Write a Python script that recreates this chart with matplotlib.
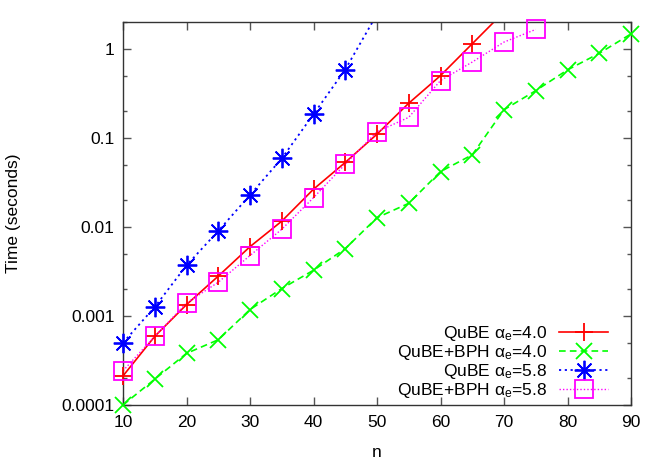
import matplotlib
matplotlib.use("Agg")
import matplotlib.pyplot as plt
from matplotlib.ticker import LogLocator, FixedLocator, NullFormatter

plt.rcParams['font.family'] = ['Liberation Sans', 'DejaVu Sans']
plt.rcParams['mathtext.fontset'] = 'custom'
plt.rcParams['mathtext.rm'] = 'Liberation Sans'
plt.rcParams['mathtext.it'] = 'Liberation Sans'

n_qube40 = [10, 15, 20, 25, 30, 35, 40, 45, 50, 55, 60, 65, 70]
t_qube40 = [0.000212, 0.00059, 0.00134, 0.0028, 0.0060, 0.0116, 0.0265, 0.053, 0.110, 0.245, 0.50, 1.14, 2.6]

n_bph40 = [10, 15, 20, 25, 30, 35, 40, 45, 50, 55, 60, 65, 70, 75, 80, 85, 90]
t_bph40 = [0.0001, 0.000195, 0.00038, 0.00054, 0.00118, 0.00203, 0.00326, 0.0057, 0.0127, 0.0184,
           0.0418, 0.0645, 0.207, 0.339, 0.58, 0.89, 1.47]

n_qube58 = [10, 15, 20, 25, 30, 35, 40, 45, 50]
t_qube58 = [0.00050, 0.00126, 0.0037, 0.0090, 0.0228, 0.0587, 0.184, 0.585, 2.45]

n_bph58 = [10, 15, 20, 25, 30, 35, 40, 45, 50, 55, 60, 65, 70, 75]
t_bph58 = [0.000242, 0.00059, 0.0014, 0.00239, 0.00477, 0.0094, 0.0213, 0.0506, 0.117, 0.170,
           0.44, 0.71, 1.19, 1.65]

labels = [r'QuBE α$_\mathrm{e}$=4.0', r'QuBE+BPH α$_\mathrm{e}$=4.0',
          r'QuBE α$_\mathrm{e}$=5.8', r'QuBE+BPH α$_\mathrm{e}$=5.8']
x_ticks = [10, 20, 30, 40, 50, 60, 70, 80, 90]
y_ticks = [0.0001, 0.001, 0.01, 0.1, 1]
y_ticklabels = ['0.0001', '0.001', '0.01', '0.1', '1']
x_range = (10, 90)
y_range = (0.0001, 2.0)

series = [
    (n_qube40, t_qube40, dict(color='#ff0000', lw=1.2, ls='-'), dict(marker='+', ms=13)),
    (n_bph40, t_bph40, dict(color='#00ff00', lw=1.2, ls=(0, (4, 2.5))), dict(marker='x', ms=12)),
    (n_qube58, t_qube58, dict(color='#0000ff', lw=1.3, ls=(0, (1.2, 2.0))), dict(marker=(8, 2, 0), ms=14)),
    (n_bph58, t_bph58, dict(color='#ff00ff', lw=1.0, ls=(0, (1, 1.5))), dict(marker='s', ms=13, mfc='none')),
]

fig = plt.figure(figsize=(6.64, 4.65), dpi=100)
ax = fig.add_axes([123/664, 1-405/465, (631-123)/664, (405-22)/465])

fs = 12.5
handles = []
for xs, ys, lstyle, mstyle in series:
    line, = ax.plot(xs, ys, **lstyle)
    inside = [(x, y) for x, y in zip(xs, ys) if y_range[0] <= y <= y_range[1]]
    mx = [p[0] for p in inside]
    my = [p[1] for p in inside]
    mk, = ax.plot(mx, my, ls='none', color=lstyle['color'], mew=1.3, clip_on=False, zorder=3, **mstyle)
    handles.append((line, mk))

ax.set_xlim(*x_range)
ax.set_yscale('log')
ax.set_ylim(*y_range)
ax.xaxis.set_major_locator(FixedLocator(x_ticks))
ax.set_xticklabels([str(v) for v in x_ticks])
ax.yaxis.set_major_locator(FixedLocator(y_ticks))
ax.set_yticklabels(y_ticklabels)
ax.yaxis.set_minor_locator(LogLocator(base=10, subs=(2.0, 5.0)))
ax.yaxis.set_minor_formatter(NullFormatter())
ax.tick_params(which='both', direction='in', top=True, right=True, labelsize=fs, colors='#555555', labelcolor='black')
ax.tick_params(which='major', length=6, width=1)
ax.tick_params(which='minor', length=3, width=1)
ax.tick_params(axis='x', pad=7)
ax.tick_params(axis='y', pad=6)
for s in ax.spines.values():
    s.set_color('#333333')
    s.set_linewidth(1)

ax.set_xlabel('n', fontsize=fs, labelpad=11)
ax.set_ylabel('Time (seconds)', fontsize=fs, labelpad=29)

leg = ax.legend(handles, labels, loc='lower right', frameon=False, markerfirst=False, fontsize=fs,
                handlelength=2.8, handletextpad=0.7, labelspacing=0.0,
                borderaxespad=0.0, borderpad=0.0, bbox_to_anchor=(0.9547, 0.012))

fig.savefig('out.png', dpi=100)
